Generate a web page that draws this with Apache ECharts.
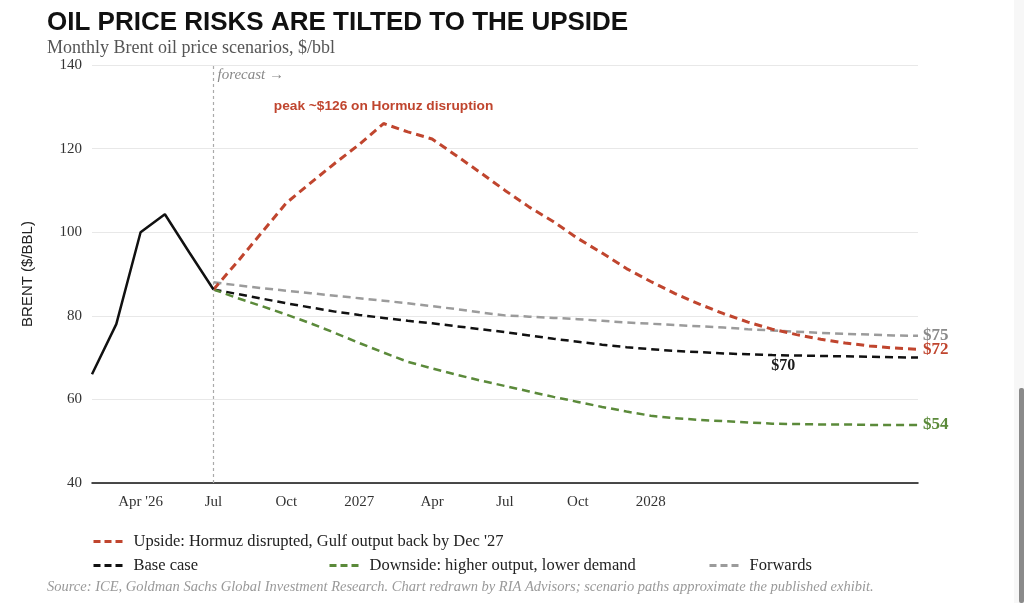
<!DOCTYPE html>
<html>
<head>
<meta charset="utf-8">
<script src="https://cdn.jsdelivr.net/npm/echarts@6/dist/echarts.min.js"></script>
<style>
html,body{margin:0;padding:0;background:#fff;}
#chart{width:1024px;height:603px;}
</style>
</head>
<body>
<div id="chart"></div>
<script>
// Months Feb 2026 .. Dec 2028
const categories = [
  'Feb 2026','Mar 2026','Apr 2026','May 2026','Jun 2026','Jul 2026','Aug 2026','Sep 2026','Oct 2026','Nov 2026','Dec 2026',
  'Jan 2027','Feb 2027','Mar 2027','Apr 2027','May 2027','Jun 2027','Jul 2027','Aug 2027','Sep 2027','Oct 2027','Nov 2027','Dec 2027',
  'Jan 2028','Feb 2028','Mar 2028','Apr 2028','May 2028','Jun 2028','Jul 2028','Aug 2028','Sep 2028','Oct 2028','Nov 2028','Dec 2028'
];
const xTickLabels = [
  '', '', "Apr '26", '', '', 'Jul', '', '', 'Oct', '', '',
  '2027', '', '', 'Apr', '', '', 'Jul', '', '', 'Oct', '', '',
  '2028', '', '', '', '', '', '', '', '', '', '', ''
];
const yTicks = [40, 60, 80, 100, 120, 140];

const historical = [66, 78, 100, 104.3, 95.2, 86.3];
const upside = [null, null, null, null, null,
  86.3, 93, 100, 107, 111.8, 116.5, 121, 126, 124, 122.3, 118.3, 114.2, 110, 106, 102.5, 98.5,
  95, 91.3, 88.2, 85.3, 82.8, 80.5, 78.5, 76.8, 75.5, 74.4, 73.5, 72.8, 72.3, 72];
const baseCase = [null, null, null, null, null,
  86.3, 85.2, 84.1, 83, 82, 81, 80.2, 79.5, 78.8, 78.2, 77.5, 76.8, 76.1, 75.3, 74.5, 73.8,
  73.1, 72.5, 72, 71.6, 71.3, 71, 70.8, 70.6, 70.5, 70.4, 70.3, 70.2, 70.1, 70];
const downside = [null, null, null, null, null,
  86.3, 84.2, 82.3, 80.3, 78.2, 75.9, 73.5, 71.2, 69, 67.4, 65.9, 64.5, 63.2, 61.9, 60.6, 59.4,
  58.2, 57.1, 56.1, 55.5, 55.1, 54.8, 54.5, 54.2, 54.1, 54, 54, 53.9, 53.9, 53.9];
const forwards = [null, null, null, null, null,
  88, 87.3, 86.6, 86, 85.4, 84.8, 84.2, 83.6, 83, 82.3, 81.6, 80.8, 80.1, 79.8, 79.5, 79.2,
  78.8, 78.4, 78.1, 77.8, 77.5, 77.2, 76.8, 76.5, 76.2, 75.9, 75.7, 75.5, 75.3, 75.2];

const seriesNames = {
  up: "Upside: Hormuz disrupted, Gulf output back by Dec '27",
  base: 'Base case',
  down: 'Downside: higher output, lower demand',
  fwd: 'Forwards'
};
const forecastStartIndex = 5;
const peakIndex = 12;
const baseLabelIndex = 28;

const C = { red: '#c0452e', green: '#5b8a3a', gray: '#9b9b9b', black: '#111111' };
const SERIF = "Georgia, 'Liberation Serif', 'DejaVu Serif', serif";
const SANS = "Arial, 'Liberation Sans', Helvetica, sans-serif";

function lastVal(a) { return a[a.length - 1]; }
function endLbl(arr, color) {
  return { show: true, formatter: '$' + Math.round(lastVal(arr)), color: color,
    fontFamily: SERIF, fontWeight: 'bold', fontSize: 17, distance: 5 };
}

const chart = echarts.init(document.getElementById('chart'), null, { renderer: 'canvas' });
const dash = [8, 5];
const legendText = { fontFamily: SERIF, fontSize: 16.5, color: '#222', padding: [0, 0, 0, 5] };
const legendCommon = { itemWidth: 30, itemHeight: 14, textStyle: legendText,
  itemStyle: { opacity: 0 }, lineStyle: { type: [7, 4], width: 3 } };

chart.setOption({
  backgroundColor: '#ffffff',
  animation: false,
  title: [
    { text: 'OIL PRICE RISKS ARE TILTED TO THE UPSIDE', left: 42, top: 5,
      textStyle: { fontFamily: SANS, fontWeight: 'bold', fontSize: 26, color: '#111' } },
    { text: 'Monthly Brent oil price scenarios, $/bbl', left: 42, top: 34,
      textStyle: { fontFamily: SERIF, fontWeight: 'normal', fontSize: 18, color: '#555' } },
    { text: 'Source: ICE, Goldman Sachs Global Investment Research. Chart redrawn by RIA Advisors; scenario paths approximate the published exhibit.',
      left: 42, top: 575,
      textStyle: { fontFamily: SERIF, fontStyle: 'italic', fontWeight: 'normal', fontSize: 14.5, color: '#999' } }
  ],
  legend: [
    Object.assign({ data: [seriesNames.up], left: 87, top: 528 }, legendCommon),
    Object.assign({ data: [seriesNames.base], left: 87, top: 552 }, legendCommon),
    Object.assign({ data: [seriesNames.down], left: 323, top: 552 }, legendCommon),
    Object.assign({ data: [seriesNames.fwd], left: 703, top: 552 }, legendCommon)
  ],
  grid: { left: 92, right: 106, top: 65, bottom: 120, containLabel: false },
  xAxis: {
    type: 'category', data: categories, boundaryGap: false,
    axisLine: { show: true, lineStyle: { color: '#111', width: 1.5 } },
    axisTick: { show: false },
    axisLabel: { interval: 0, margin: 12, formatter: (v, i) => xTickLabels[i],
      fontFamily: SERIF, fontSize: 15, color: '#333' },
    splitLine: { show: false }
  },
  yAxis: {
    type: 'value', min: yTicks[0], max: yTicks[yTicks.length - 1], interval: 20,
    name: 'BRENT ($/BBL)', nameLocation: 'middle', nameGap: 57, nameRotate: 90,
    nameTextStyle: { fontFamily: SANS, fontSize: 15, color: '#222' },
    axisLine: { show: false }, axisTick: { show: false },
    axisLabel: { margin: 10, fontFamily: SERIF, fontSize: 15, color: '#333' },
    splitLine: { lineStyle: { color: '#e8e8e8', width: 1 } }
  },
  series: [
    { name: 'Historical', type: 'line', data: historical, symbol: 'none', z: 5,
      lineStyle: { color: C.black, width: 2.5 }, itemStyle: { color: C.black },
      markLine: { silent: true, symbol: 'none', label: { show: false },
        lineStyle: { color: '#aaa', type: [3, 3], width: 1.2 },
        data: [{ xAxis: forecastStartIndex }] },
      markPoint: { silent: true, symbol: 'circle', symbolSize: 0,
        data: [
          { coord: [forecastStartIndex, 137.6],
            label: { show: true, position: 'right', distance: 4, formatter: 'forecast →',
              fontFamily: SERIF, fontStyle: 'italic', fontSize: 15, color: '#888' } },
          { coord: [peakIndex, 130.2],
            label: { show: true, position: 'inside', formatter: 'peak ~$' + Math.max(...upside.filter(v => v != null)) + ' on Hormuz disruption',
              fontFamily: SANS, fontWeight: 'bold', fontSize: 13.7, color: C.red } }
        ] }
    },
    { name: seriesNames.fwd, type: 'line', data: forwards, symbol: 'none', z: 2,
      lineStyle: { color: C.gray, width: 2.5, type: dash }, itemStyle: { color: C.gray },
      endLabel: endLbl(forwards, '#8a8a8a') },
    { name: seriesNames.base, type: 'line', data: baseCase, symbol: 'none', z: 3,
      lineStyle: { color: C.black, width: 2.5, type: dash }, itemStyle: { color: C.black },
      markPoint: { silent: true, symbol: 'circle', symbolSize: 0,
        data: [{ coord: [baseLabelIndex, baseCase[baseLabelIndex]],
          label: { show: true, position: 'bottom', distance: 3, offset: [11, 0], formatter: '$' + Math.round(lastVal(baseCase)),
            color: '#1a1a1a', fontFamily: SERIF, fontWeight: 'bold', fontSize: 16 } }] } },
    { name: seriesNames.down, type: 'line', data: downside, symbol: 'none', z: 3,
      lineStyle: { color: C.green, width: 2.5, type: dash }, itemStyle: { color: C.green },
      endLabel: endLbl(downside, C.green) },
    { name: seriesNames.up, type: 'line', data: upside, symbol: 'none', z: 4,
      lineStyle: { color: C.red, width: 3, type: dash }, itemStyle: { color: C.red },
      endLabel: endLbl(upside, C.red) }
  ],
  graphic: [
    { type: 'rect', left: 1014, top: 0, shape: { width: 10, height: 603 }, style: { fill: '#f7f7f7' }, silent: true },
    { type: 'rect', left: 1019, top: 388, shape: { width: 5, height: 215, r: 2 }, style: { fill: '#8a8a8a' }, silent: true }
  ]
});
</script>
</body>
</html>
